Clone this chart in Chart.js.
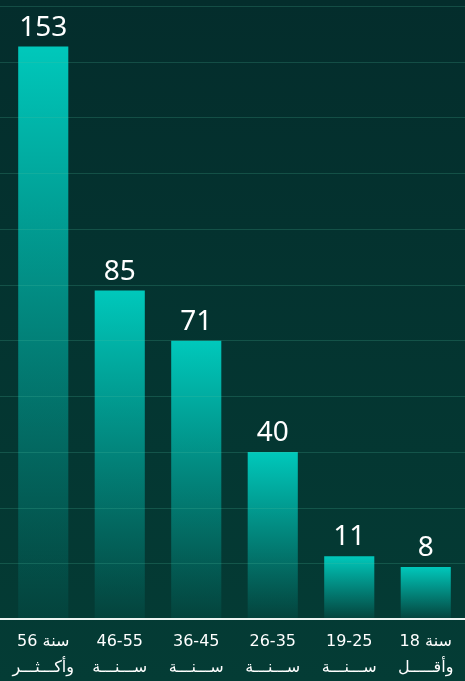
<!DOCTYPE html>
<html>
<head>
<meta charset="utf-8">
<script src="https://cdn.jsdelivr.net/npm/chart.js@4.4.1/dist/chart.umd.min.js"></script>
<style>
  html, body { margin: 0; padding: 0; background: #043530; }
  #wrap { width: 465px; height: 681px; position: relative; }
</style>
</head>
<body>
<div id="wrap"><canvas id="chartEdades"></canvas></div>
<script>
// age groups, left to right (oldest first)
const categorias = [
  ['56 سنة', 'وأكـــثـــر'],
  ['46-55', 'ســـنـــة'],
  ['36-45', 'ســـنـــة'],
  ['26-35', 'ســـنـــة'],
  ['19-25', 'ســـنـــة'],
  ['18 سنة', 'وأقـــــل']
];
const valores = [153, 85, 71, 40, 11, 8];

// value axis range (grid only, no labels shown)
const EJE_MIN = -6.5;
const EJE_MAX = 164.3;
const NUM_LINEAS = 12;

const TEAL = '0, 200, 187';

// ---------- fondo + rejilla + etiquetas ----------
const fondo = {
  id: 'fondo',
  beforeDraw(chart) {
    const c = chart.ctx;
    const g = c.createLinearGradient(0, 0, 0, chart.height);
    g.addColorStop(0, '#042d2c');
    g.addColorStop(1, '#043c35');
    c.save();
    c.fillStyle = g;
    c.fillRect(0, 0, chart.width, chart.height);
    c.restore();
  },
  afterDatasetsDraw(chart) {
    const c = chart.ctx;
    const y = chart.scales.y;
    c.save();
    // horizontal lines across the whole width
    c.strokeStyle = 'rgba(76, 190, 161, 0.22)';
    c.lineWidth = 1;
    y.ticks.forEach(t => {
      if (t.value <= EJE_MIN) return;
      const py = Math.round(y.getPixelForValue(t.value)) + 0.5;
      c.beginPath();
      c.moveTo(0, py);
      c.lineTo(chart.width, py);
      c.stroke();
    });
    // base line
    const by = y.getPixelForValue(EJE_MIN);
    c.strokeStyle = '#eef4f2';
    c.lineWidth = 2;
    c.beginPath();
    c.moveTo(0, by);
    c.lineTo(chart.width, by);
    c.stroke();

    // value labels
    c.fillStyle = '#ffffff';
    c.font = '400 28px "Noto Sans", sans-serif';
    c.textAlign = 'center';
    c.textBaseline = 'alphabetic';
    chart.getDatasetMeta(0).data.forEach((bar, i) => {
      c.fillText(String(valores[i]), bar.x, bar.y - 11);
    });
    c.restore();
  }
};

const ctx = document.getElementById('chartEdades');
new Chart(ctx, {
  type: 'bar',
  data: {
    labels: categorias,
    datasets: [{
      label: 'العدد',
      data: valores,
      base: EJE_MIN,
      barPercentage: 0.655,
      categoryPercentage: 1,
      borderWidth: 0,
      backgroundColor: (context) => {
        const chart = context.chart;
        const { chartArea, scales } = chart;
        if (!chartArea || context.raw == null) return 'rgb(' + TEAL + ')';
        const top = scales.y.getPixelForValue(context.raw);
        const bottom = scales.y.getPixelForValue(EJE_MIN);
        const g = chart.ctx.createLinearGradient(0, top, 0, bottom);
        g.addColorStop(0, 'rgba(' + TEAL + ', 1)');
        g.addColorStop(1, 'rgba(' + TEAL + ', 0.06)');
        return g;
      }
    }]
  },
  options: {
    responsive: true,
    maintainAspectRatio: false,
    animation: false,
    layout: { padding: { left: 5, right: 1, top: 6, bottom: 2 } },
    plugins: {
      legend: { display: false },
      tooltip: { enabled: false }
    },
    scales: {
      x: {
        grid: { display: false, drawTicks: false },
        border: { display: false },
        afterFit: (scale) => { scale.height = 60; },
        ticks: {
          color: '#ffffff',
          padding: 10,
          maxRotation: 0,
          autoSkip: false,
          font: { family: '"DejaVu Sans", sans-serif', size: 16, lineHeight: 1.6 }
        }
      },
      y: {
        min: EJE_MIN,
        max: EJE_MAX,
        grid: { display: false, drawTicks: false },
        border: { display: false },
        ticks: { display: false, count: NUM_LINEAS }
      }
    }
  },
  plugins: [fondo]
});
</script>
</body>
</html>
